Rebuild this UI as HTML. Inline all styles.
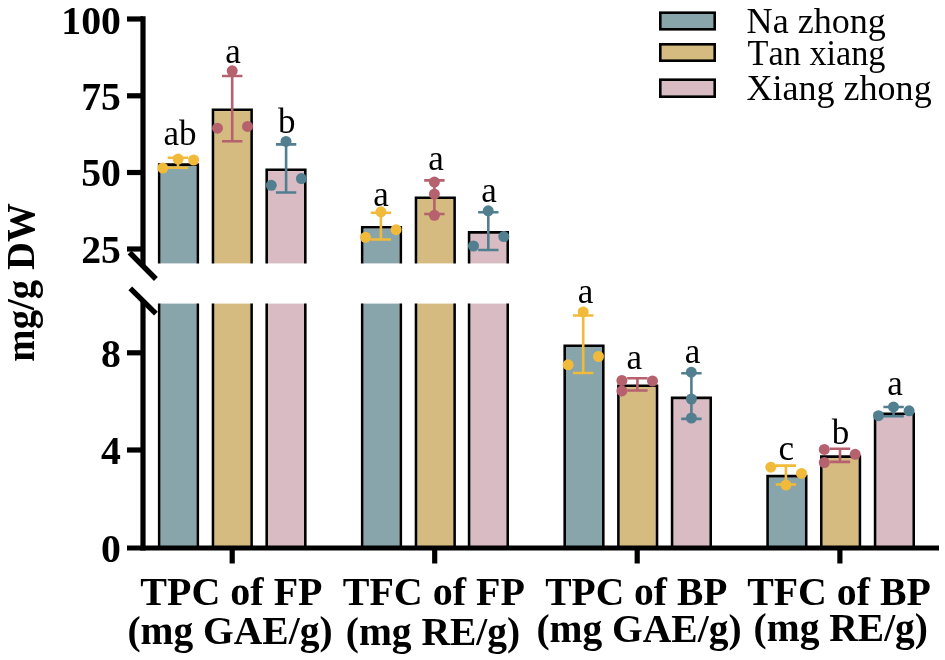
<!DOCTYPE html>
<html lang="en"><head><meta charset="utf-8"><title>Chart</title>
<style>html,body{margin:0;padding:0;background:#fff}svg{display:block}</style></head>
<body>
<svg width="945" height="660" viewBox="0 0 945 660">
<rect width="945" height="660" fill="#fff"/>
<rect x="160.50" y="165.90" width="36.00" height="97.50" fill="#87A5AA"/>
<rect x="160.50" y="303.60" width="36.00" height="242.40" fill="#87A5AA"/>
<path d="M159.20 263.4V164.60H197.80V263.4M159.20 303.6V546.0M197.80 303.6V546.0" fill="none" stroke="#000" stroke-width="2.6"/>
<rect x="214.30" y="111.10" width="36.00" height="152.30" fill="#D5BB80"/>
<rect x="214.30" y="303.60" width="36.00" height="242.40" fill="#D5BB80"/>
<path d="M213.00 263.4V109.80H251.60V263.4M213.00 303.6V546.0M251.60 303.6V546.0" fill="none" stroke="#000" stroke-width="2.6"/>
<rect x="268.00" y="171.10" width="36.00" height="92.30" fill="#D8BBC3"/>
<rect x="268.00" y="303.60" width="36.00" height="242.40" fill="#D8BBC3"/>
<path d="M266.70 263.4V169.80H305.30V263.4M266.70 303.6V546.0M305.30 303.6V546.0" fill="none" stroke="#000" stroke-width="2.6"/>
<rect x="363.50" y="228.50" width="36.00" height="34.90" fill="#87A5AA"/>
<rect x="363.50" y="303.60" width="36.00" height="242.40" fill="#87A5AA"/>
<path d="M362.20 263.4V227.20H400.80V263.4M362.20 303.6V546.0M400.80 303.6V546.0" fill="none" stroke="#000" stroke-width="2.6"/>
<rect x="417.30" y="199.00" width="36.00" height="64.40" fill="#D5BB80"/>
<rect x="417.30" y="303.60" width="36.00" height="242.40" fill="#D5BB80"/>
<path d="M416.00 263.4V197.70H454.60V263.4M416.00 303.6V546.0M454.60 303.6V546.0" fill="none" stroke="#000" stroke-width="2.6"/>
<rect x="470.40" y="233.70" width="36.00" height="29.70" fill="#D8BBC3"/>
<rect x="470.40" y="303.60" width="36.00" height="242.40" fill="#D8BBC3"/>
<path d="M469.10 263.4V232.40H507.70V263.4M469.10 303.6V546.0M507.70 303.6V546.0" fill="none" stroke="#000" stroke-width="2.6"/>
<rect x="566.00" y="347.00" width="36.00" height="199.00" fill="#87A5AA"/>
<path d="M564.70 546.0V345.70H603.30V546.0" fill="none" stroke="#000" stroke-width="2.6"/>
<rect x="619.70" y="387.00" width="36.00" height="159.00" fill="#D5BB80"/>
<path d="M618.40 546.0V385.70H657.00V546.0" fill="none" stroke="#000" stroke-width="2.6"/>
<rect x="673.40" y="399.20" width="36.00" height="146.80" fill="#D8BBC3"/>
<path d="M672.10 546.0V397.90H710.70V546.0" fill="none" stroke="#000" stroke-width="2.6"/>
<rect x="768.90" y="477.40" width="36.00" height="68.60" fill="#87A5AA"/>
<path d="M767.60 546.0V476.10H806.20V546.0" fill="none" stroke="#000" stroke-width="2.6"/>
<rect x="822.60" y="457.90" width="36.00" height="88.10" fill="#D5BB80"/>
<path d="M821.30 546.0V456.60H859.90V546.0" fill="none" stroke="#000" stroke-width="2.6"/>
<rect x="876.40" y="415.00" width="36.00" height="131.00" fill="#D8BBC3"/>
<path d="M875.10 546.0V413.70H913.70V546.0" fill="none" stroke="#000" stroke-width="2.6"/>
<path d="M167.8 157.8H188.2M167.8 167.8H188.2M178.0 157.8V167.8" fill="none" stroke="#F2BA3A" stroke-width="2.6"/>
<circle cx="162.8" cy="168.1" r="5.5" fill="#F2BA3A"/>
<circle cx="178.1" cy="159.1" r="5.5" fill="#F2BA3A"/>
<circle cx="193.6" cy="160" r="5.5" fill="#F2BA3A"/>
<path d="M222.0 76H242.39999999999998M222.0 141.3H242.39999999999998M232.2 76V141.3" fill="none" stroke="#B5616E" stroke-width="2.6"/>
<circle cx="232.2" cy="70.8" r="5.5" fill="#B5616E"/>
<circle cx="217.5" cy="128.2" r="5.5" fill="#B5616E"/>
<circle cx="247.5" cy="126.4" r="5.5" fill="#B5616E"/>
<path d="M275.90000000000003 144.4H296.3M275.90000000000003 192.5H296.3M286.1 144.4V192.5" fill="none" stroke="#527F90" stroke-width="2.6"/>
<circle cx="286" cy="141.4" r="5.5" fill="#527F90"/>
<circle cx="271.3" cy="185.3" r="5.5" fill="#527F90"/>
<circle cx="301.4" cy="178.6" r="5.5" fill="#527F90"/>
<path d="M370.7 212.7H391.09999999999997M370.7 239.5H391.09999999999997M380.9 212.7V239.5" fill="none" stroke="#F2BA3A" stroke-width="2.6"/>
<circle cx="380.9" cy="211.8" r="5.5" fill="#F2BA3A"/>
<circle cx="396.1" cy="229.7" r="5.5" fill="#F2BA3A"/>
<circle cx="365.5" cy="237.3" r="5.5" fill="#F2BA3A"/>
<path d="M424.2 180.4H444.59999999999997M424.2 214H444.59999999999997M434.4 180.4V214" fill="none" stroke="#B5616E" stroke-width="2.6"/>
<circle cx="434.4" cy="182.1" r="5.5" fill="#B5616E"/>
<circle cx="434.4" cy="194.1" r="5.5" fill="#B5616E"/>
<circle cx="434.4" cy="215.3" r="5.5" fill="#B5616E"/>
<path d="M478.1 212.3H498.5M478.1 250.0H498.5M488.3 212.3V250.0" fill="none" stroke="#527F90" stroke-width="2.6"/>
<circle cx="488.2" cy="210.8" r="5.5" fill="#527F90"/>
<circle cx="503.8" cy="236.6" r="5.5" fill="#527F90"/>
<circle cx="473.5" cy="246.0" r="5.5" fill="#527F90"/>
<path d="M573.0 315.5H593.4000000000001M573.0 373H593.4000000000001M583.2 315.5V373" fill="none" stroke="#F2BA3A" stroke-width="2.6"/>
<circle cx="583.2" cy="311.9" r="5.5" fill="#F2BA3A"/>
<circle cx="598.5" cy="356.5" r="5.5" fill="#F2BA3A"/>
<circle cx="568.1" cy="364.8" r="5.5" fill="#F2BA3A"/>
<path d="M627.1999999999999 378.3H647.6M627.1999999999999 390.5H647.6M637.4 378.3V390.5" fill="none" stroke="#B5616E" stroke-width="2.6"/>
<circle cx="621.9" cy="380.5" r="5.5" fill="#B5616E"/>
<circle cx="652.5" cy="381" r="5.5" fill="#B5616E"/>
<circle cx="621.9" cy="390.9" r="5.5" fill="#B5616E"/>
<path d="M681.1999999999999 373.3H701.6M681.1999999999999 418.9H701.6M691.4 373.3V418.9" fill="none" stroke="#527F90" stroke-width="2.6"/>
<circle cx="691.3" cy="372.2" r="5.5" fill="#527F90"/>
<circle cx="691.4" cy="399.0" r="5.5" fill="#527F90"/>
<circle cx="691.4" cy="418" r="5.5" fill="#527F90"/>
<path d="M775.6999999999999 465.6H796.1M775.6999999999999 484.5H796.1M785.9 465.6V484.5" fill="none" stroke="#F2BA3A" stroke-width="2.6"/>
<circle cx="770.8" cy="467.2" r="5.5" fill="#F2BA3A"/>
<circle cx="801.5" cy="473.4" r="5.5" fill="#F2BA3A"/>
<circle cx="786" cy="485.1" r="5.5" fill="#F2BA3A"/>
<path d="M829.8 448.8H850.2M829.8 461.9H850.2M840.0 448.8V461.9" fill="none" stroke="#B5616E" stroke-width="2.6"/>
<circle cx="824.3" cy="449.4" r="5.5" fill="#B5616E"/>
<circle cx="855.2" cy="454.3" r="5.5" fill="#B5616E"/>
<circle cx="824.3" cy="462.5" r="5.5" fill="#B5616E"/>
<path d="M883.4 407H903.8000000000001M883.4 416.3H903.8000000000001M893.6 407V416.3" fill="none" stroke="#527F90" stroke-width="2.6"/>
<circle cx="893.5" cy="406.9" r="5.5" fill="#527F90"/>
<circle cx="909.1" cy="410.8" r="5.5" fill="#527F90"/>
<circle cx="878.5" cy="415.7" r="5.5" fill="#527F90"/>
<g stroke="#000" stroke-width="5.2" fill="none">
<path d="M143.0 16.3V266M143.0 301V550.5"/>
<path d="M127 548H939"/>
<path d="M127 19H143.0"/>
<path d="M127 95.8H143.0"/>
<path d="M127 172.5H143.0"/>
<path d="M127 249H143.0"/>
<path d="M127 352.8H143.0"/>
<path d="M127 450.0H143.0"/>
<path d="M232.2 548V563.5"/>
<path d="M434.7 548V563.5"/>
<path d="M637.2 548V563.5"/>
<path d="M839.9 548V563.5"/>
<path d="M129.6 252.5L155.9 279M130.3 288.4L155.9 313.6" stroke-width="5.4"/>
</g>
<g font-family="'Liberation Serif', 'Times New Roman', serif" fill="#000">
<g font-size="41" font-weight="bold" text-anchor="end">
<text transform="translate(121 33.8) scale(0.97 1)">100</text>
<text transform="translate(121 109.8) scale(0.97 1)">75</text>
<text transform="translate(121 186.3) scale(0.97 1)">50</text>
<text transform="translate(121 262.9) scale(0.97 1)">25</text>
<text transform="translate(121 366.7) scale(0.97 1)">8</text>
<text transform="translate(121 464.0) scale(0.97 1)">4</text>
<text transform="translate(121 561.9) scale(0.97 1)">0</text>
</g>
<g font-size="40" font-weight="bold" text-anchor="middle">
<text transform="translate(231.4 605.2) scale(1.0 1)">TPC of FP</text>
<text transform="translate(230 644.2) scale(0.9875 1)">(mg GAE/g)</text>
<text transform="translate(433.8 605.2) scale(1.0 1)">TFC of FP</text>
<text transform="translate(433 644.6) scale(0.9875 1)">(mg RE/g)</text>
<text transform="translate(636.3 605.2) scale(0.9875 1)">TPC of BP</text>
<text transform="translate(639 641.6) scale(0.9875 1)">(mg GAE/g)</text>
<text transform="translate(839 605.2) scale(0.996 1)">TFC of BP</text>
<text transform="translate(840.8 640.6) scale(0.9875 1)">(mg RE/g)</text>
<text transform="translate(34.0 282.5) rotate(-90) scale(0.946 1)" font-size="41">mg/g DW</text>
</g>
<g font-size="35" text-anchor="middle">
<text x="180.1" y="144.6">ab</text>
<text x="232.9" y="63.4">a</text>
<text x="286.7" y="133.2">b</text>
<text x="380.9" y="205.5">a</text>
<text x="436" y="170.3">a</text>
<text x="489" y="202.1">a</text>
<text x="585.4" y="303.2">a</text>
<text x="634.2" y="368.7">a</text>
<text x="692.5" y="363.2">a</text>
<text x="786.2" y="460.4">c</text>
<text x="840.4" y="444.1">b</text>
<text x="895" y="395.1">a</text>
</g>
<g font-size="35.6">
<text transform="translate(746.6 32.8) scale(1.014 1)" style="font-kerning:auto">Na zhong</text>
<text transform="translate(747.6 64.9) scale(0.962 1)" style="font-kerning:none">Tan xiang</text>
<text transform="translate(746.4 99.7) scale(1.013 1)" style="font-kerning:auto">Xiang zhong</text>
</g>
</g>
<rect x="660.3" y="12.700000000000001" width="54.4" height="16.60" fill="#87A5AA" stroke="#000" stroke-width="2.6"/>
<rect x="660.3" y="44.3" width="54.4" height="16.40" fill="#D5BB80" stroke="#000" stroke-width="2.6"/>
<rect x="660.3" y="79.7" width="54.4" height="17.00" fill="#D8BBC3" stroke="#000" stroke-width="2.6"/>
</svg>
</body></html>
